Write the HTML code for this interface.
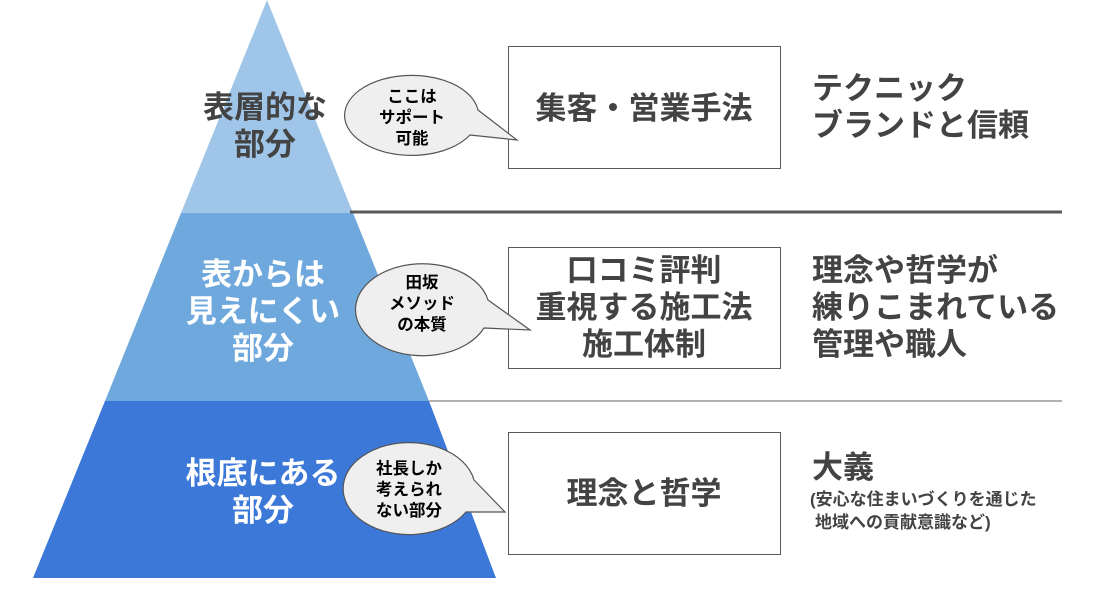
<!DOCTYPE html>
<html><head><meta charset="utf-8"><style>
html,body{margin:0;padding:0;background:#fff;}
svg text{font-family:"Liberation Sans","Noto Sans CJK JP",sans-serif;font-weight:bold;}
</style></head><body>
<svg width="1097" height="590" viewBox="0 0 1097 590" xmlns="http://www.w3.org/2000/svg">
<polygon points="267,0 353,213 181,213" fill="#9fc5e8"/>
<polygon points="181,213 353,213 429,401 105,401" fill="#6fa8dc"/>
<polygon points="105,401 429,401 496,578 33,578" fill="#3c78d8"/>
<line x1="350" y1="212" x2="1062" y2="212" stroke="#595959" stroke-width="3"/>
<line x1="429" y1="401" x2="1062" y2="401" stroke="#999" stroke-width="1.5"/>
<g fill="#fff" stroke="#595959" stroke-width="1">
<rect x="508.5" y="46.5" width="272" height="122"/>
<rect x="508.5" y="247.5" width="272" height="121"/>
<rect x="508.5" y="432.5" width="272" height="122"/>
</g>
<g fill="#efefef" stroke="#555" stroke-width="1.2">
<path d="M470,135 L517,140 L478,110 A67,40 0 1 0 470,135 Z"/>
<path d="M484,328 L530,330 L488,300 A67,46 0 1 0 484,328 Z"/>
<path d="M466,512 L505,512 L474,480 A66,46 0 1 0 466,512 Z"/>
</g>
<g font-size="31" text-anchor="middle" fill="#434343">
<text x="265" y="118">表層的な</text><text x="265" y="155">部分</text>
</g>
<g font-size="31" text-anchor="middle" fill="#fff">
<text x="263" y="285">表からは</text><text x="263" y="322">見えにくい</text><text x="263" y="359">部分</text>
<text x="263" y="484">根底にある</text><text x="263" y="521">部分</text>
</g>
<g font-size="16.5" text-anchor="middle" fill="#000">
<text x="412" y="102">ここは</text><text x="412" y="123">サポート</text><text x="412" y="144">可能</text>
<text x="422" y="288">田坂</text><text x="422" y="309">メソッド</text><text x="422" y="330">の本質</text>
<text x="409" y="474">社長しか</text><text x="409" y="495">考えられ</text><text x="409" y="516">ない部分</text>
</g>
<g font-size="31" text-anchor="middle" fill="#434343">
<text x="644" y="119">集客・営業手法</text>
<text x="644" y="281">口コミ評判</text><text x="644" y="318">重視する施工法</text><text x="644" y="355">施工体制</text>
<text x="644" y="504">理念と哲学</text>
</g>
<g font-size="31" fill="#434343">
<text x="812" y="99">テクニック</text><text x="812" y="136">ブランドと信頼</text>
<text x="812" y="281">理念や哲学が</text><text x="812" y="318">練りこまれている</text><text x="812" y="355">管理や職人</text>
<text x="812" y="478">大義</text>
</g>
<g font-size="17" fill="#434343">
<text x="810" y="505">(安心な住まいづくりを通じた</text><text x="815" y="528">地域への貢献意識など)</text>
</g>
</svg>
</body></html>
